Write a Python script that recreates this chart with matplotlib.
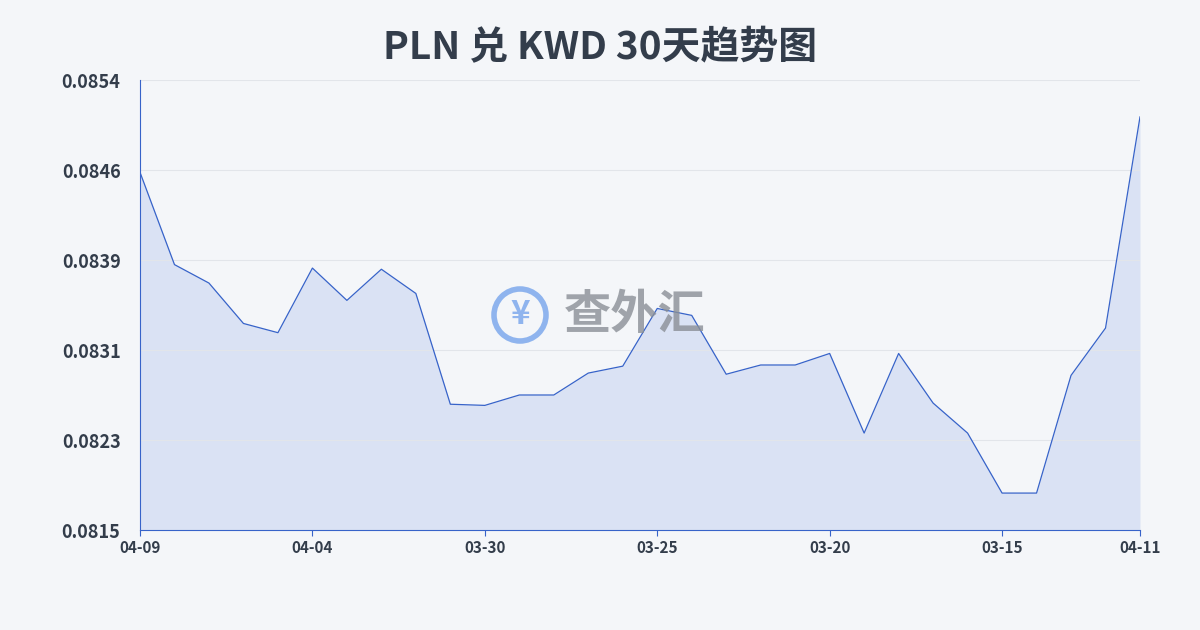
import numpy as np
import matplotlib.pyplot as plt
from matplotlib.patches import Ellipse

plt.rcParams['font.family'] = ['Noto Sans CJK SC', 'DejaVu Sans']

dates = ["04-09", "04-08", "04-07", "04-06", "04-05", "04-04", "04-03", "04-02", "04-01", "03-31",
         "03-30", "03-29", "03-28", "03-27", "03-26", "03-25", "03-24", "03-23", "03-22", "03-21",
         "03-20", "03-19", "03-18", "03-17", "03-16", "03-15", "03-14", "03-13", "03-12", "04-11"]
rates = [0.08460, 0.08380, 0.08364, 0.08329, 0.08321, 0.08377, 0.08349, 0.08376, 0.08355, 0.08259,
         0.08258, 0.08267, 0.08267, 0.08286, 0.08292, 0.08342, 0.08336, 0.08285, 0.08293, 0.08293,
         0.08303, 0.08234, 0.08303, 0.08260, 0.08234, 0.08182, 0.08182, 0.08284, 0.08325, 0.08508]
yticks = np.linspace(0.0815, 0.0854, 6)
ytick_labels = ["0.0815", "0.0823", "0.0831", "0.0839", "0.0846", "0.0854"]
xtick_idx = [0, 5, 10, 15, 20, 25, 29]

fig = plt.figure(figsize=(12, 6.3), dpi=100)
fig.patch.set_facecolor("#f4f6f9")
ax = fig.add_axes([140/1200, 100/630, 1000/1200, 450/630])
ax.set_facecolor("#f4f6f9")

x = np.arange(len(rates))
ax.fill_between(x, rates, 0.0815, color="#c9d6f2", alpha=0.6, lw=0)
ax.plot(x, rates, color="#3763c9", lw=0.9)

ax.set_xlim(0, len(rates) - 1)
ax.set_ylim(0.0815, 0.0854)
ax.set_yticks(yticks)
ax.set_yticklabels(ytick_labels, fontsize=13, fontweight="bold", color="#333d4b")
ax.set_xticks(xtick_idx)
ax.set_xticklabels([dates[i] for i in xtick_idx], fontsize=11, fontweight="bold", color="#333d4b")
ax.tick_params(axis="y", length=0, pad=14)
ax.tick_params(axis="x", length=4, color="#3763c9")
ax.grid(axis="y", color="#e2e5ea", lw=0.8)
for s in ["top", "right"]:
    ax.spines[s].set_visible(False)
ax.spines["left"].set_color("#3763c9")
ax.spines["bottom"].set_color("#3763c9")

fig.text(0.5, 0.925, "PLN 兑 KWD 30天趋势图", ha="center", va="center",
         fontsize=28, fontweight="bold", color="#333d4b")

# watermark
cx, cy = 520/1200, 1 - 315/630
fig.text(cx, cy, "¥", ha="center", va="center", fontsize=24,
         fontweight="bold", color="#8fb4ee")
fig.add_artist(Ellipse((cx, cy), 52/1200, 52/630, transform=fig.transFigure,
                       fill=False, lw=4, color="#8fb4ee"))
fig.text(635/1200, cy, "查外汇", ha="center", va="center", fontsize=34,
         fontweight="bold", color="#8a8f96", alpha=0.8)

fig.savefig("out.png", dpi=100, facecolor=fig.get_facecolor())
